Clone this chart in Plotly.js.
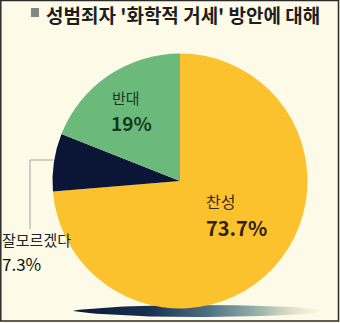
<!DOCTYPE html>
<html>
<head>
<meta charset="utf-8">
<script src="https://cdn.plot.ly/plotly-3.0.1.min.js"></script>
<style>html,body{margin:0;padding:0;background:#fdfbe7;}#chart{width:340px;height:323px;}</style>
</head>
<body>
<div id="chart"></div>
<script>
// Data
const titleText = "성범죄자 '화학적 거세' 방안에 대해";
const labels = ["찬성", "잘모르겠다", "반대"];
const values = [73.7, 7.3, 19];
const colors = ["#fcc22e", "#0b1636", "#6cb97c"];

const W = 340, H = 323;
const px = x => x / W;
const py = y => 1 - y / H;
const FONT = "Noto Sans CJK KR, Noto Sans, sans-serif";

// decorative shadow outline under the pie
const sx = [], sy = [];
for (let i = 0; i <= 80; i++) {
  const t = Math.PI * 2 * i / 80;
  const c = Math.cos(t);
  sx.push(197 + 124 * c);
  sy.push(311 + 6 * Math.sin(t) * (c < 0 ? (1 - 0.45 * Math.pow(-c, 3)) : 1));
}

const fmt = v => v + "%";

const traces = [
  {
    type: "scatter", x: sx, y: sy, mode: "lines", line: {width: 0},
    fill: "toself",
    fillgradient: {type: "horizontal", colorscale: [[0, "#0a1838"], [0.3, "#17304f"], [0.55, "#4f7283"], [0.78, "#a9bdb4"], [1, "rgba(245,225,190,0.2)"]]},
    hoverinfo: "skip", showlegend: false, xaxis: "x", yaxis: "y"
  },
  {
    type: "pie", labels: labels, values: values, sort: false,
    direction: "clockwise", rotation: 0,
    marker: {colors: colors, line: {width: 0}},
    textinfo: "none", hoverinfo: "label+percent", showlegend: false,
    domain: {x: [px(180 - 127.5), px(180 + 127.5)], y: [py(181 + 127.5), py(181 - 127.5)]}
  }
];

const ann = (text, x, y, size, color, bold) => ({
  text: bold ? "<b>" + text + "</b>" : text, x: px(x), y: py(y), xref: "paper", yref: "paper",
  xanchor: "left", yanchor: "middle", showarrow: false, borderpad: 0,
  font: {family: FONT, size: size, color: color}
});

const layout = {
  width: W, height: H, margin: {l: 0, r: 0, t: 0, b: 0},
  paper_bgcolor: "#fdfbe7", plot_bgcolor: "rgba(0,0,0,0)",
  xaxis: {range: [0, W], visible: false, fixedrange: true, domain: [0, 1]},
  yaxis: {range: [H, 0], visible: false, fixedrange: true, domain: [0, 1]},
  shapes: [
    {type: "rect", xref: "paper", yref: "paper", x0: px(31), x1: px(39), y0: py(8), y1: py(17), fillcolor: "#7f8a84", line: {width: 0}},
    {type: "line", xref: "paper", yref: "paper", x0: px(30), x1: px(53), y0: py(160), y1: py(160), line: {color: "#a3a3a3", width: 1}},
    {type: "line", xref: "paper", yref: "paper", x0: px(30), x1: px(30), y0: py(160), y1: py(229), line: {color: "#a3a3a3", width: 1}},
    {type: "rect", xref: "paper", yref: "paper", x0: px(0.8), x1: px(338.5), y0: py(0.5), y1: py(321), line: {color: "#2a2a2a", width: 1.5}, fillcolor: "rgba(0,0,0,0)"}
  ],
  annotations: [
    ann(titleText, 45, 15, 19, "#1e1e1e", true),
    ann(labels[2], 111, 98, 15, "#16391f", false),
    ann(fmt(values[2]), 110, 123, 19, "#16391f", true),
    ann(labels[0], 205, 201, 16, "#3a2a10", false),
    ann(fmt(values[0]), 205, 227, 20, "#2e220c", true),
    ann(labels[1], 1, 239, 15, "#222222", false),
    ann(fmt(values[1]), 1, 263, 17, "#111111", false)
  ]
};

Plotly.newPlot("chart", traces, layout, {staticPlot: true, displayModeBar: false});
</script>
</body>
</html>
